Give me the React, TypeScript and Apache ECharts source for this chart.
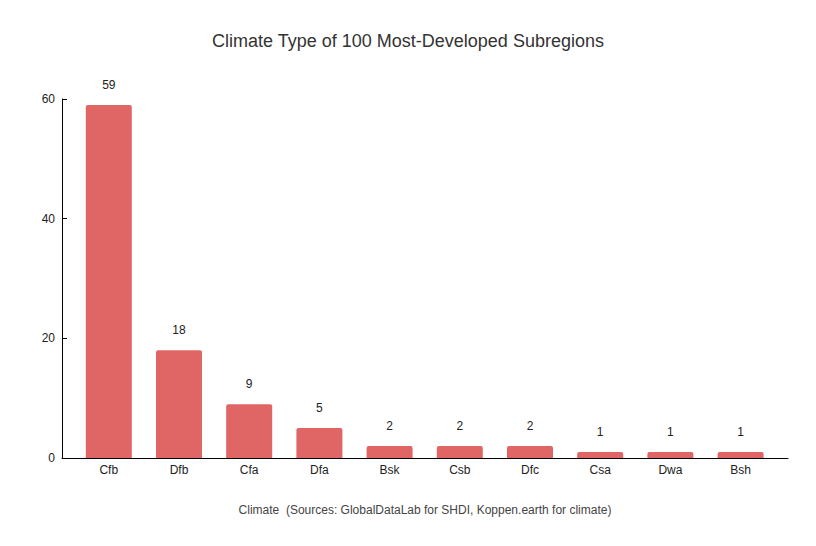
import React, { useEffect, useRef } from 'react';
import * as echarts from 'echarts';

const climates = ['Cfb', 'Dfb', 'Cfa', 'Dfa', 'Bsk', 'Csb', 'Dfc', 'Csa', 'Dwa', 'Bsh'];
const counts = [59, 18, 9, 5, 2, 2, 2, 1, 1, 1];

const FONT = 'Arial, "Liberation Sans", Helvetica, sans-serif';

const App: React.FC = () => {
  const chartRef = useRef<HTMLDivElement>(null);

  useEffect(() => {
    if (!chartRef.current) return;
    document.body.style.margin = '0';
    const chart = echarts.init(chartRef.current, undefined, { renderer: 'svg' });

    const option: echarts.EChartsOption = {
      animation: false,
      backgroundColor: '#ffffff',
      textStyle: { fontFamily: FONT },
      title: {
        text: 'Climate Type of 100 Most-Developed Subregions',
        left: 'center',
        top: 27,
        textStyle: { fontSize: 18, fontWeight: 'normal', color: '#333333', fontFamily: FONT }
      },
      grid: [
        // frame grid: axis lines, y ticks, footer name
        { left: 62, right: 28, top: 99, bottom: 88 },
        // bar grid: narrower band for categories
        { left: 73.7, width: 702, top: 99, bottom: 88 }
      ],
      xAxis: [
        {
          type: 'value',
          gridIndex: 0,
          min: 0,
          max: 1,
          axisLine: { show: true, lineStyle: { color: '#000000', width: 1 } },
          axisTick: { show: false },
          axisLabel: { show: false },
          splitLine: { show: false },
          name: 'Climate  (Sources: GlobalDataLab for SHDI, Koppen.earth for climate)',
          nameLocation: 'middle',
          nameGap: 46,
          nameTextStyle: { fontSize: 12, color: '#444444', fontFamily: FONT }
        },
        {
          type: 'category',
          gridIndex: 1,
          data: climates,
          axisLine: { show: false },
          axisTick: { show: false },
          axisLabel: { fontSize: 12, color: '#222222', margin: 6, fontFamily: FONT }
        }
      ],
      yAxis: [
        {
          type: 'value',
          gridIndex: 0,
          min: 0,
          max: 60,
          interval: 20,
          axisLine: { show: true, lineStyle: { color: '#000000', width: 1 } },
          axisTick: { show: true, inside: true, length: 5, lineStyle: { color: '#000000' } },
          axisLabel: { fontSize: 12, color: '#222222', margin: 7, fontFamily: FONT },
          splitLine: { show: false }
        },
        {
          type: 'value',
          gridIndex: 1,
          min: 0,
          max: 60,
          show: false
        }
      ],
      series: [
        {
          type: 'bar',
          xAxisIndex: 1,
          yAxisIndex: 1,
          data: counts,
          barWidth: 46,
          itemStyle: { color: '#e06666', borderRadius: [2, 2, 0, 0] },
          label: {
            show: true,
            position: 'top',
            distance: 14,
            fontSize: 12,
            color: '#222222',
            fontFamily: FONT
          }
        }
      ]
    };

    chart.setOption(option);
    return () => {
      chart.dispose();
    };
  }, []);

  return <div ref={chartRef} style={{ width: 816, height: 546 }} />;
};

export default App;
